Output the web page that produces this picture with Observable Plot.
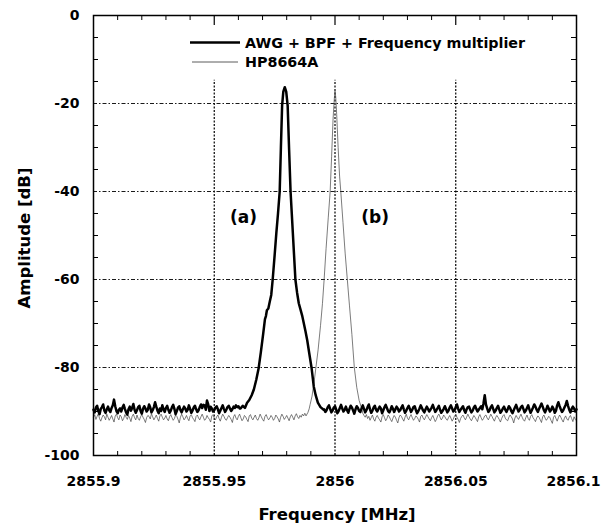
<!DOCTYPE html>
<html><head><meta charset="utf-8">
<script src="https://cdn.jsdelivr.net/npm/d3@7"></script>
<script src="https://cdn.jsdelivr.net/npm/@observablehq/plot@0.6"></script>
<style>
html,body{margin:0;padding:0;background:#fff;}
#chart{position:relative;width:602px;height:527px;overflow:hidden;}
</style></head><body><div id="chart"></div>
<script>
// ---------- data ----------
const sweepStep = 0.0005;

// AWG + BPF + Frequency multiplier: noise floor
const awgFloorLeftStart = 2855.9;
const awgFloorLeft = [
  -89.6,-90.2,-89.1,-88.7,-89.9,-90.6,-89.4,-89.0,-88.4,-89.8,
  -90.3,-89.5,-88.9,-89.7,-90.1,-89.2,-88.6,-87.3,-88.8,-89.9,
  -90.4,-89.6,-89.3,-90.0,-89.1,-88.5,-89.4,-90.2,-90.7,-89.5,
  -88.9,-89.8,-89.2,-88.3,-89.6,-90.3,-89.7,-89.0,-88.7,-89.9,
  -90.5,-89.4,-88.8,-89.3,-90.0,-89.6,-88.4,-89.1,-90.2,-89.7,
  -89.0,-87.9,-88.9,-89.8,-90.4,-89.3,-89.9,-88.6,-89.5,-90.1,
  -89.2,-88.7,-89.6,-90.3,-89.8,-89.0,-88.5,-89.4,-90.6,-89.9,
  -89.1,-88.8,-89.7,-90.2,-89.5,-88.9,-89.3,-90.0,-89.6,-88.6,
  -89.4,-90.3,-89.8,-89.1,-88.7,-89.5,-90.1,-89.7,-89.0,-88.4,
  -89.2,-88.5,-88.6,-89.6,-87.5,-88.4,-89.9,-88.9,-89.3,-90.0,
  -89.7,-89.1,-88.8,-89.5,-90.4,-89.8,-89.2,-88.6,-89.4,-90.1,
  -89.6,-89.0,-88.7,-89.3,-89.9,-89.5,-88.9,-89.2,-88.6,-89.0,
  -88.8,-89.3];
const awgFloorRightStart = 2855.9955;
const awgFloorRight = [
  -89.5,-90.1,-89.7,-89.0,-88.6,-89.4,-90.2,-89.8,-89.1,-88.8,
  -89.6,-90.4,-89.9,-89.2,-88.5,-89.3,-90.0,-89.6,-88.9,-89.7,
  -90.3,-89.4,-88.7,-89.1,-89.8,-90.5,-89.5,-88.8,-89.2,-89.9,
  -90.1,-89.3,-88.6,-89.4,-90.2,-89.7,-89.0,-88.4,-89.5,-90.3,
  -89.8,-89.1,-88.7,-89.6,-90.0,-89.4,-88.9,-89.3,-90.4,-89.7,
  -89.0,-88.5,-89.2,-89.9,-90.2,-89.6,-88.8,-89.4,-90.1,-89.5,
  -88.9,-89.3,-90.0,-89.7,-89.1,-88.6,-89.5,-90.3,-89.8,-89.2,
  -88.7,-89.4,-90.1,-89.6,-89.0,-88.8,-89.7,-90.4,-89.9,-89.3,
  -88.6,-89.2,-89.8,-90.2,-89.5,-88.9,-89.4,-90.0,-89.6,-89.1,
  -88.5,-89.3,-90.1,-89.7,-89.2,-88.7,-89.6,-90.3,-89.9,-89.4,
  -88.8,-89.5,-90.2,-89.8,-89.1,-88.6,-89.3,-90.0,-89.7,-89.0,
  -88.4,-89.4,-90.1,-89.6,-89.2,-88.8,-89.7,-90.3,-89.5,-89.0,
  -88.9,-89.6,-90.2,-89.8,-89.1,-88.7,-89.4,-90.0,-89.6,-89.2,
  -88.8,-89.5,-88.1,-86.3,-88.4,-89.3,-90.1,-89.7,-89.0,-88.6,
  -89.4,-90.2,-89.8,-89.2,-88.7,-89.5,-90.3,-89.9,-89.3,-88.9,
  -89.6,-90.1,-89.5,-88.8,-89.2,-89.9,-90.4,-89.7,-89.1,-88.5,
  -89.3,-90.0,-89.6,-89.0,-88.7,-89.4,-90.2,-89.8,-89.2,-88.6,
  -89.5,-90.3,-89.7,-89.1,-88.4,-88.9,-89.6,-90.1,-89.4,-88.8,
  -88.2,-88.9,-89.7,-90.2,-89.5,-88.7,-89.3,-90.0,-89.6,-88.9,
  -89.4,-90.3,-89.8,-88.6,-87.9,-88.8,-89.5,-90.1,-89.7,-89.1,
  -88.5,-87.6,-88.7,-89.6,-90.2,-89.4,-88.9,-89.3,-90.0,-89.5];
// AWG peak (a)
const awgPeakFreq = [
  2855.9609,2855.9618,2855.9627,2855.9636,2855.9645,2855.9655,2855.9664,2855.9674,2855.9684,2855.9693,
  2855.9703,2855.9710,2855.9714,2855.9718,2855.9724,2855.9730,2855.9736,2855.9742,2855.9750,2855.9757,
  2855.9764,2855.9771,2855.9776,2855.9781,2855.9786,2855.9792,2855.9798,2855.9804,2855.9810,2855.9816,
  2855.9823,2855.9830,2855.9836,2855.9843,2855.9850,2855.9857,2855.9864,2855.9871,2855.9878,2855.9885,
  2855.9894,2855.9903,2855.9912,2855.9920,2855.9929,2855.9940,2855.9953];
const awgPeakAmp = [
  -89.3,-88.7,-89.2,-88.0,-87.4,-86.3,-85.0,-82.8,-80.1,-76.5,
  -72.2,-69.0,-68.3,-67.0,-66.6,-65.0,-63.5,-60.0,-54.5,-49.5,
  -45.0,-40.0,-30.0,-20.5,-17.3,-16.3,-17.3,-20.5,-30.5,-40.0,
  -47.0,-54.0,-60.0,-63.0,-65.4,-66.8,-68.2,-70.0,-71.8,-73.8,
  -77.0,-80.1,-84.3,-86.3,-88.0,-89.0,-89.6];

// HP8664A: noise floor
const hpFloorLeftStart = 2855.9;
const hpFloorLeft = [
  -91.3,-90.7,-91.8,-91.1,-90.5,-91.6,-92.2,-91.4,-90.8,-91.2,
  -91.9,-90.6,-91.3,-92.0,-91.5,-90.9,-91.7,-92.4,-91.0,-90.6,
  -91.4,-91.9,-90.8,-91.2,-92.1,-91.6,-90.7,-91.3,-91.8,-90.9,
  -91.5,-92.3,-91.1,-90.6,-91.4,-91.9,-90.8,-91.6,-92.0,-91.2,
  -90.7,-91.3,-91.8,-92.5,-91.4,-90.9,-91.1,-91.7,-90.5,-91.2,
  -91.9,-91.4,-90.8,-91.6,-92.2,-91.0,-90.6,-91.3,-91.9,-91.5,
  -90.9,-91.7,-92.1,-91.2,-90.7,-91.4,-92.0,-91.6,-90.8,-91.1,
  -91.8,-92.6,-91.3,-90.6,-91.2,-91.9,-91.5,-90.9,-91.6,-92.1,
  -91.0,-90.7,-91.4,-91.8,-92.3,-91.1,-90.8,-91.5,-91.9,-91.2,
  -90.6,-91.3,-92.0,-91.7,-90.9,-91.4,-91.8,-92.4,-91.0,-90.7,
  -91.5,-91.9,-91.2,-90.8,-91.6,-92.2,-91.3,-90.6,-91.1,-91.7,
  -92.0,-91.4,-90.9,-91.3,-91.8,-92.5,-91.2,-90.7,-91.5,-91.9,
  -91.1,-90.6,-91.4,-92.1,-91.7,-90.9,-91.2,-91.8,-92.3,-91.0,
  -90.7,-91.5,-91.9,-91.3,-90.8,-91.6,-92.0,-91.4,-90.6,-91.2,
  -91.8,-92.2,-91.1,-90.7,-91.4,-91.9,-91.5,-90.9,-91.3,-92.0,
  -91.6,-90.8,-91.2,-91.7,-92.4,-91.3,-90.6,-91.1,-91.8,-91.4,
  -90.9,-91.5,-92.1,-91.2,-90.7,-91.3,-91.9,-91.0,-90.5,-91.2,
  -91.6,-90.9,-91.3,-90.6,-91.0,-90.4];
const hpFloorRightStart = 2856.0115;
const hpFloorRight = [
  -90.4,-90.9,-91.3,-90.7,-91.6,-91.1,-92.0,-91.4,-90.8,-91.7,
  -92.2,-91.3,-90.9,-91.5,-91.9,-92.4,-91.2,-90.7,-91.4,-92.1,
  -91.6,-90.8,-91.2,-91.8,-92.3,-91.5,-90.9,-91.3,-92.0,-92.6,
  -91.4,-90.8,-91.1,-91.7,-92.2,-91.3,-90.6,-91.5,-91.9,-91.2,
  -90.7,-91.4,-92.0,-91.6,-91.0,-91.3,-91.8,-92.4,-91.1,-90.8,
  -91.5,-91.9,-91.3,-90.7,-91.2,-91.7,-92.1,-91.4,-90.9,-91.6,
  -92.3,-91.8,-91.0,-90.6,-91.3,-91.9,-91.5,-90.8,-91.2,-91.7,
  -92.0,-91.4,-90.9,-91.5,-92.2,-91.7,-91.0,-90.7,-91.3,-91.8,
  -92.5,-91.6,-91.1,-90.8,-91.4,-91.9,-91.3,-90.6,-91.2,-91.7,
  -92.1,-91.5,-90.9,-91.3,-91.8,-92.3,-91.2,-90.7,-91.4,-92.0,
  -91.6,-91.0,-90.8,-91.5,-91.9,-91.3,-90.6,-91.1,-91.7,-92.2,
  -91.4,-90.9,-91.3,-91.8,-92.4,-91.6,-91.0,-90.7,-91.5,-91.9,
  -92.1,-91.3,-90.8,-91.2,-91.7,-92.6,-91.5,-90.9,-91.4,-91.8,
  -91.2,-90.6,-91.3,-91.9,-92.2,-91.4,-90.8,-91.6,-92.0,-91.1,
  -90.7,-91.4,-91.8,-92.3,-91.5,-91.0,-91.3,-91.9,-92.5,-91.2,
  -90.8,-91.5,-92.0,-91.6,-91.1,-91.4,-92.1,-92.7,-91.3,-90.9,
  -91.6,-92.2,-91.4,-90.8,-91.3,-91.9,-92.4,-91.5,-91.0,-91.7,
  -92.0,-91.3,-90.9,-91.6,-92.3,-91.2,-91.8,-92.1];
// HP8664A peak (b)
const hpPeakFreq = [
  2855.9880,2855.9888,2855.9893,2855.9897,2855.9905,2855.9913,2855.9921,2855.9930,2855.9940,2855.9948,
  2855.9955,2855.9963,2855.9972,2855.9980,2855.9986,2855.9992,2855.9997,2856.0000,2856.0003,2856.0007,
  2856.0013,2856.0019,2856.0024,2856.0033,2856.0042,2856.0051,2856.0060,2856.0070,2856.0080,2856.0090,
  2856.0100,2856.0112];
const hpPeakAmp = [
  -91.0,-90.2,-89.4,-88.4,-86.5,-83.5,-80.0,-76.0,-70.5,-65.5,
  -60.0,-53.0,-46.0,-40.0,-32.0,-23.5,-19.0,-17.2,-18.5,-22.5,
  -30.0,-36.5,-40.0,-47.0,-54.0,-60.0,-66.0,-72.5,-80.0,-84.5,
  -87.5,-89.6];

const seriesNames = ["AWG + BPF + Frequency multiplier", "HP8664A"];
const annotationLabels = ["(a)", "(b)"];
const annotationFreq = [2855.9621, 2856.0166];
const annotationAmp = [-46, -46];

const xMajorTicks = [2855.9, 2855.95, 2856, 2856.05, 2856.1];
const xTickLabels = ["2855.9", "2855.95", "2856", "2856.05", "2856.1"];
const xMinorTicks = [2855.91,2855.92,2855.93,2855.94,2855.96,2855.97,2855.98,2855.99,
                     2856.01,2856.02,2856.03,2856.04,2856.06,2856.07,2856.08,2856.09];
const yMajorTicks = [0, -20, -40, -60, -80, -100];
const yTickLabels = ["0", "-20", "-40", "-60", "-80", "-100"];
const yMinorTicks = [-5,-10,-15,-25,-30,-35,-45,-50,-55,-65,-70,-75,-85,-90,-95];
const xGridValues = [2855.95, 2856, 2856.05];
const yGridValues = [-20, -40, -60, -80];
const xGridTop = -14.7;
const xTitle = "Frequency [MHz]";
const yTitle = "Amplitude [dB]";

// ---------- build tables ----------
function buildSeries(floorLeft, leftStart, floorRight, rightStart, peakF, peakA) {
  const pts = [];
  const lo = peakF[0], hi = peakF[peakF.length - 1];
  floorLeft.forEach((a, i) => { const f = leftStart + i * sweepStep; if (f < lo - 1e-9) pts.push({f, a}); });
  peakF.forEach((f, i) => pts.push({f, a: peakA[i]}));
  floorRight.forEach((a, i) => { const f = rightStart + i * sweepStep; if (f > hi + 1e-9) pts.push({f, a}); });
  return pts.sort((p, q) => p.f - q.f);
}
const awgData = buildSeries(awgFloorLeft, awgFloorLeftStart, awgFloorRight, awgFloorRightStart, awgPeakFreq, awgPeakAmp);
const hpData = buildSeries(hpFloorLeft, hpFloorLeftStart, hpFloorRight, hpFloorRightStart, hpPeakFreq, hpPeakAmp);
const annotations = annotationLabels.map((label, i) => ({label, f: annotationFreq[i], a: annotationAmp[i]}));

// ---------- layout ----------
const W = 602, H = 527, mL = 93, mR = 26, mT = 15, mB = 72;
const innerW = W - mL - mR, innerH = H - mT - mB;
const FONT = "'DejaVu Sans', sans-serif";

const chart = Plot.plot({
  width: W, height: H,
  marginLeft: mL, marginRight: mR, marginTop: mT, marginBottom: mB,
  style: {fontFamily: FONT, fontWeight: "bold", fontSize: "14px", color: "black", background: "white", overflow: "visible"},
  x: {domain: [2855.9, 2856.1]},
  y: {domain: [-100, 0]},
  marks: [
    Plot.ruleY(yGridValues, {stroke: "black", strokeWidth: 0.9, strokeDasharray: "4,2,1.5,2"}),
    Plot.ruleX(xGridValues, {y1: -100, y2: xGridTop, stroke: "black", strokeWidth: 1.2, strokeDasharray: "2,1.5"}),
    Plot.line(hpData, {x: "f", y: "a", stroke: "#444", strokeWidth: 0.7}),
    Plot.line(awgData, {x: "f", y: "a", stroke: "black", strokeWidth: 2.5, strokeLinejoin: "round"}),
    Plot.text(annotations, {x: "f", y: "a", text: "label", fontSize: 17, fontWeight: "bold", fill: "black"}),
    Plot.tickX(xMinorTicks, {insetTop: innerH - 4, stroke: "black"}),
    Plot.tickX(xMinorTicks, {insetBottom: innerH - 5, stroke: "black"}),
    Plot.tickX(xGridValues, {insetBottom: innerH - 10, stroke: "black", strokeWidth: 1.2}),
    Plot.tickY(yMinorTicks, {insetRight: innerW - 5, stroke: "black"}),
    Plot.tickY(yMinorTicks, {insetLeft: innerW - 5, stroke: "black"}),
    Plot.frame({stroke: "black", strokeWidth: 1.5}),
    Plot.axisX({ticks: xMajorTicks, tickSize: 0, tickPadding: 21, label: null,
      tickFormat: d => xTickLabels[xMajorTicks.indexOf(d)], fontSize: 14}),
    Plot.axisY({ticks: yMajorTicks, tickSize: 0, tickPadding: 14, label: null,
      tickFormat: d => yTickLabels[yMajorTicks.indexOf(d)], fontSize: 14})
  ]
});
document.getElementById("chart").appendChild(chart);

// ---------- titles & legend ----------
const svg = d3.select(chart);
// keep the last x tick label inside the picture
const xLabels = svg.selectAll('g[aria-label="x-axis tick label"] text').nodes();
if (xLabels.length) d3.select(xLabels[xLabels.length - 1]).attr("dx", -3);

svg.append("text").attr("x", 337).attr("y", 520).attr("text-anchor", "middle")
  .attr("font-family", FONT).attr("font-weight", "bold").attr("font-size", 16.5).attr("fill", "black").text(xTitle);
svg.append("text").attr("transform", "translate(29.5,238) rotate(-90)").attr("text-anchor", "middle")
  .attr("font-family", FONT).attr("font-weight", "bold").attr("font-size", 16.5).attr("fill", "black").text(yTitle);

const legendStyles = [{w: 2.5, c: "black", x1: 190, x2: 240}, {w: 0.8, c: "#333", x1: 192, x2: 238}];
const lg = svg.append("g");
seriesNames.forEach((name, k) => {
  const yc = 42.5 + 19.5 * k;
  lg.append("line").attr("x1", legendStyles[k].x1).attr("x2", legendStyles[k].x2)
    .attr("y1", yc).attr("y2", yc).attr("stroke", legendStyles[k].c).attr("stroke-width", legendStyles[k].w);
  lg.append("text").attr("x", 245).attr("y", yc + 5.3).attr("text-anchor", "start")
    .attr("font-family", FONT).attr("font-weight", "bold").attr("font-size", 14.3).attr("fill", "black").text(name);
});
</script>
</body></html>
